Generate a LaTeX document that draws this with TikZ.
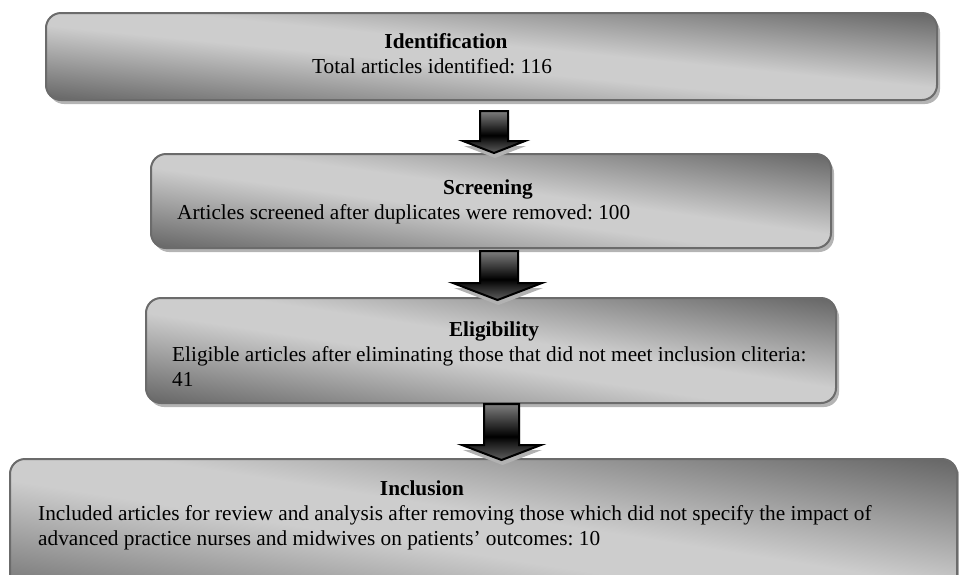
\documentclass[tikz,border=0pt]{standalone}
\usepackage{fontspec}
\setmainfont{Liberation Serif}
\usetikzlibrary{shadows}
\definecolor{gdark}{HTML}{666666}
\definecolor{glight}{HTML}{CDCDCD}
\definecolor{gborder}{HTML}{6B6B6B}
\definecolor{gshadow}{HTML}{B4B4B4}
\definecolor{atop}{HTML}{7E7E7E}
\definecolor{abot}{HTML}{5E5E5E}
\pgfdeclareverticalshading{boxshade}{100bp}{color(0bp)=(gdark); color(14.6bp)=(gdark); color(45bp)=(glight); color(55bp)=(glight); color(85.4bp)=(gdark); color(100bp)=(gdark)}
\pgfdeclareverticalshading{arrowshade}{100bp}{color(0bp)=(abot); color(25bp)=(abot); color(38bp)=(black!85!white); color(46bp)=(black); color(75bp)=(atop); color(100bp)=(atop)}
\tikzset{
  boxframe/.style={rectangle, rounded corners=15pt, draw=gborder, line width=2pt,
    inner sep=0pt, outer sep=0pt},
  txt/.style={font=\fontsize{21.3}{25}\selectfont, inner sep=0pt, anchor=base west},
  ttl/.style={font=\fontsize{21.3}{25}\selectfont\bfseries, inner sep=0pt, anchor=base},
  blockarrow/.style={draw=black, line width=2pt, line join=miter, shading=arrowshade,
    drop shadow={shadow xshift=1pt, shadow yshift=-5pt, fill=gray!60, opacity=1}}
}
% #1 name, #2 cx, #3 cy, #4 width, #5 height
\newcommand{\mybox}[5]{%
  \fill[gshadow, rounded corners=15pt] (#2-#4/2+3,#3-#5/2+4) rectangle (#2+#4/2+3,#3+#5/2+4);
  \begin{scope}
    \clip[rounded corners=15pt] (#2-#4/2,#3-#5/2) rectangle (#2+#4/2,#3+#5/2);
    \shade[shading=boxshade, shading angle=-45,
      transform canvas={shift={(#2,#3)}, xscale=#4/100, yscale=#5/100}] (-50,-50) rectangle (50,50);
  \end{scope}
  \node[boxframe, minimum width=#4pt, minimum height=#5pt] (#1) at (#2,#3) {};
}
\begin{document}
\begin{tikzpicture}[x=1pt,y=-1pt]
\frenchspacing
\useasboundingbox (0,0) rectangle (959,574);
\clip (0,0) rectangle (959,574);
% boxes
\mybox{b1}{491.5}{56.5}{891}{87}
\mybox{b2}{491}{201}{680}{94}
\mybox{b3}{491}{350.5}{690}{105}
\mybox{b4}{483.5}{534}{947}{150}
% texts
\node[ttl] (t1a) at (446,48) {Identification};
\node[txt] (t1b) at (312,73) {Total articles identified: 116};
\node[ttl] (t2a) at (488,194) {Screening};
\node[txt] (t2b) at (177,219) {Articles screened after duplicates were removed: 100};
\node[ttl] (t3a) at (494,336) {Eligibility};
\node[txt] (t3b) at (172,361) {Eligible articles after eliminating those that did not meet inclusion cliteria:};
\node[txt] (t3c) at (172,386) {41};
\node[ttl] (t4a) at (422,495) {Inclusion};
\node[txt] (t4b) at (38,520) {Included articles for review and analysis after removing those which did not specify the impact of};
\node[txt] (t4c) at (38,545) {advanced practice nurses and midwives on patients’ outcomes: 10};
% arrows
\coordinate (a1e) at (494,153);
\coordinate (a2e) at (497.5,300);
\coordinate (a3e) at (501.5,460);
\path[blockarrow] (480,111) -- (508,111) -- (508,141) -- (525,141) -- (a1e) -- (463,141) -- (480,141) -- cycle;
\path[blockarrow] (480,251) -- (518,251) -- (518,283) -- (542,283) -- (a2e) -- (453,283) -- (480,283) -- cycle;
\path[blockarrow] (484,404) -- (519,404) -- (519,445) -- (541,445) -- (a3e) -- (462,445) -- (484,445) -- cycle;
\end{tikzpicture}
\end{document}
